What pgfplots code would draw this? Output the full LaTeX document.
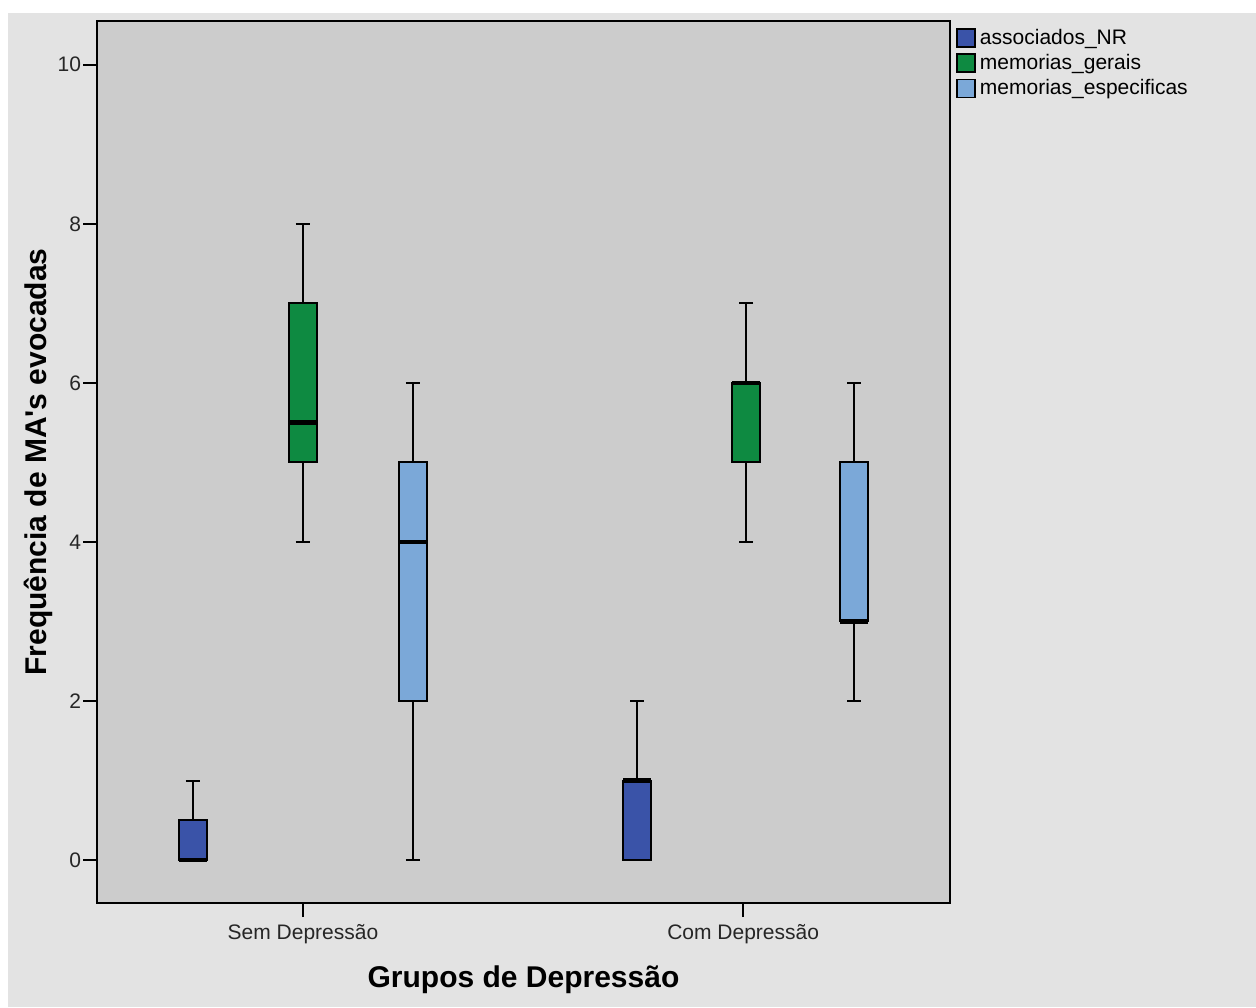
\documentclass[border=0pt]{standalone}
\usepackage{fontspec}
\setmainfont{Liberation Sans}
\usepackage{pgfplots}
\pgfplotsset{compat=1.18}
\usepgfplotslibrary{statistics}

\definecolor{bgouter}{HTML}{E3E3E3}
\definecolor{bgplot}{HTML}{CCCCCC}
\definecolor{assocblue}{HTML}{3A53A8}
\definecolor{geraisgreen}{HTML}{0E8A41}
\definecolor{especblue}{HTML}{7BA8D8}

\begin{document}
\begin{tikzpicture}
\useasboundingbox (0pt,0pt) rectangle (628pt,503.5pt);
\fill[white] (0pt,0pt) rectangle (628pt,503.5pt);
\fill[bgouter] (4pt,0pt) rectangle (628pt,497pt);
\begin{axis}[
    at={(48.5pt,52pt)}, anchor=south west,
    scale only axis,
    width=426.5pt, height=441pt,
    xmin=-0.468, xmax=1.47,
    ymin=-0.54, ymax=10.55,
    xtick={0,1},
    xticklabels={Sem Depressão, Com Depressão},
    ytick={0,2,...,10},
    xtick pos=bottom, ytick pos=left,
    tick align=outside,
    major tick length=7pt,
    tick style={black, line width=1pt},
    axis line style={black, line width=1pt},
    axis background/.style={fill=bgplot},
    ticklabel style={font=\fontsize{10.5}{12}\selectfont, text=black!85},
    yticklabel style={xshift=2.5pt},
    /pgf/number format/assume math mode=true,
    xlabel={Grupos de Depressão},
    ylabel={Frequência de MA\textquotesingle s evocadas},
    label style={font=\bfseries\fontsize{15}{18}\selectfont},
    xlabel style={at={(axis description cs:0.5,-0.0873)}, anchor=center},
    ylabel style={at={(axis description cs:-0.0692,0.5)}, anchor=center},
    legend style={at={(axis description cs:1.007,0.996)}, anchor=north west,
        draw=none, fill=none, inner sep=0pt,
        font=\fontsize{10.5}{12}\selectfont, row sep=-0.5pt},
    legend cell align=left,
    legend image code/.code={\draw[#1, line width=0.8pt] (0pt,-4.5pt) rectangle (9pt,4.5pt);},
    boxplot/draw direction=y,
    boxplot/every median/.style={line width=2.2pt},
]

\addlegendimage{fill=assocblue, draw=black}
\addlegendentry{associados\_NR}
\addlegendimage{fill=geraisgreen, draw=black}
\addlegendentry{memorias\_gerais}
\addlegendimage{fill=especblue, draw=black}
\addlegendentry{memorias\_especificas}

% Sem Depressao
\addplot[forget plot, draw=black, fill=assocblue, line width=1pt,
    boxplot prepared={draw position=-0.25, lower whisker=0, lower quartile=0,
    median=0, upper quartile=0.5, upper whisker=1,
    box extend=0.0636, whisker extend=0.032}] coordinates {};
\addplot[forget plot, draw=black, fill=geraisgreen, line width=1pt,
    boxplot prepared={draw position=0, lower whisker=4, lower quartile=5,
    median=5.5, upper quartile=7, upper whisker=8,
    box extend=0.0636, whisker extend=0.032}] coordinates {};
\addplot[forget plot, draw=black, fill=especblue, line width=1pt,
    boxplot prepared={draw position=0.25, lower whisker=0, lower quartile=2,
    median=4, upper quartile=5, upper whisker=6,
    box extend=0.0636, whisker extend=0.032}] coordinates {};

% Com Depressao
\addplot[forget plot, draw=black, fill=assocblue, line width=1pt,
    boxplot prepared={draw position=0.759, lower whisker=0, lower quartile=0,
    median=1, upper quartile=1, upper whisker=2,
    box extend=0.0636, whisker extend=0.032}] coordinates {};
\addplot[forget plot, draw=black, fill=geraisgreen, line width=1pt,
    boxplot prepared={draw position=1.007, lower whisker=4, lower quartile=5,
    median=6, upper quartile=6, upper whisker=7,
    box extend=0.0636, whisker extend=0.032}] coordinates {};
\addplot[forget plot, draw=black, fill=especblue, line width=1pt,
    boxplot prepared={draw position=1.252, lower whisker=2, lower quartile=3,
    median=3, upper quartile=5, upper whisker=6,
    box extend=0.0636, whisker extend=0.032}] coordinates {};

\end{axis}
\end{tikzpicture}
\end{document}
